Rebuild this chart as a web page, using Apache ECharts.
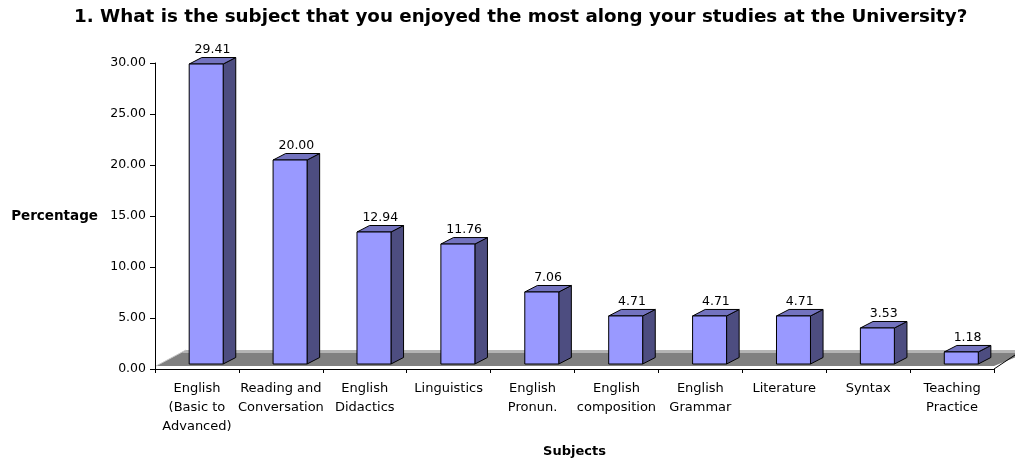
<!DOCTYPE html>
<html>
<head>
<meta charset="utf-8">
<script src="https://cdn.jsdelivr.net/npm/echarts@6/dist/echarts.min.js"></script>
<style>
  html, body { margin: 0; padding: 0; background: #ffffff; }
  #chart { width: 1015px; height: 460px; }
</style>
</head>
<body>
<div id="chart"></div>
<script>
// Survey question 1: favourite subject, share of respondents (%)
const categories = [
  'English\n(Basic to\nAdvanced)',
  'Reading and\nConversation',
  'English\nDidactics',
  'Linguistics',
  'English\nPronun.',
  'English\ncomposition',
  'English\nGrammar',
  'Literature',
  'Syntax',
  'Teaching\nPractice'
];
const percentages = [29.41, 20.00, 12.94, 11.76, 7.06, 4.71, 4.71, 4.71, 3.53, 1.18];
const yAxisRange = { min: 0, max: 30, interval: 5 };

const FONT = 'DejaVu Sans';
const FRONT = '#9999ff';
const SIDE = '#4d4d80';
const TOP = '#7373bf';

// Gray 3D floor drawn under the bars, following the grid rectangle
function renderFloor(params, api) {
  const cs = params.coordSys;
  const fx = cs.x, fy = cs.y + cs.height;
  const w = cs.width;
  const depthX = 30, depthY = 16;
  const front = fy - 3;
  return {
    type: 'group',
    children: [
      {
        type: 'polygon',
        shape: { points: [[fx + 1, front], [fx + 1 + depthX, front - depthY], [fx + w + depthX + 10, front - depthY], [fx + w, front]] },
        style: { fill: '#808080', stroke: null }
      },
      {
        type: 'polygon',
        shape: { points: [[fx + 1 + depthX - 4, front - depthY + 3], [fx + 1 + depthX, front - depthY], [fx + w + depthX + 10, front - depthY], [fx + w + depthX + 6, front - depthY + 3]] },
        style: { fill: '#b4b4b4', stroke: null }
      },
      {
        type: 'line',
        shape: { x1: fx + 1, y1: front, x2: fx + 1 + depthX, y2: front - depthY },
        style: { stroke: '#c8c8c8', lineWidth: 1 }
      },
      {
        type: 'line',
        shape: { x1: fx + w, y1: fy, x2: fx + w + depthX, y2: fy - depthY - 4 },
        style: { stroke: '#000000', lineWidth: 1 }
      }
    ]
  };
}

// Box-shaped bar: front face, shaded side, top face and its value label
function renderBar(params, api) {
  const i = api.value(0);
  const v = api.value(1);
  const top = api.coord([i, v]);
  const base = api.coord([i, 0]);
  const band = api.size([1, 0])[0];
  const w = band * 0.405;
  const dx = band * 0.15;
  const dy = 6.5;
  const lift = 5;
  const x0 = top[0] + band * 0.11 - w / 2;
  const x1 = x0 + w;
  const yT = top[1] - lift;
  const yB = base[1] - lift;
  const edge = { stroke: '#000000', lineWidth: 1, lineJoin: 'round' };
  return {
    type: 'group',
    children: [
      {
        type: 'polygon',
        shape: { points: [[x1, yT], [x1 + dx, yT - dy], [x1 + dx, yB - dy], [x1, yB]] },
        style: Object.assign({ fill: SIDE }, edge)
      },
      {
        type: 'polygon',
        shape: { points: [[x0, yT], [x0 + dx, yT - dy], [x1 + dx, yT - dy], [x1, yT]] },
        style: Object.assign({ fill: TOP }, edge)
      },
      {
        type: 'rect',
        shape: { x: x0, y: yT, width: w, height: yB - yT },
        style: Object.assign({ fill: FRONT }, edge)
      },
      {
        type: 'text',
        x: (x0 + x1 + dx) / 2,
        y: yT - dy - 8,
        style: {
          text: v.toFixed(2),
          fill: '#000000',
          font: '12.5px "' + FONT + '"',
          align: 'center',
          verticalAlign: 'middle'
        }
      }
    ]
  };
}

const chart = echarts.init(document.getElementById('chart'), null, { renderer: 'canvas' });
chart.setOption({
  animation: false,
  backgroundColor: '#ffffff',
  title: {
    text: '1. What is the subject that you enjoyed the most along your studies at the University?',
    left: 74,
    top: 8,
    padding: 0,
    textStyle: { fontFamily: FONT, fontSize: 18.3, fontWeight: 'bold', color: '#000000' }
  },
  grid: { left: 155, right: 21, top: 63, bottom: 91, containLabel: false, outerBoundsMode: 'none' },
  xAxis: {
    type: 'category',
    data: categories,
    boundaryGap: true,
    name: 'Subjects',
    nameLocation: 'middle',
    nameGap: 76,
    nameTextStyle: { fontFamily: FONT, fontSize: 13, fontWeight: 'bold', color: '#000000' },
    axisLine: { lineStyle: { color: '#000000', width: 1 } },
    axisTick: { show: true, length: 4, interval: 0, lineStyle: { color: '#000000' } },
    axisLabel: {
      interval: 0,
      hideOverlap: false,
      margin: 10,
      fontFamily: FONT,
      fontSize: 13,
      lineHeight: 19,
      color: '#000000',
      align: 'center'
    },
    splitLine: { show: false }
  },
  yAxis: {
    type: 'value',
    min: yAxisRange.min,
    max: yAxisRange.max,
    interval: yAxisRange.interval,
    name: 'Percentage',
    nameLocation: 'middle',
    nameRotate: 0,
    nameGap: 57,
    nameTextStyle: { fontFamily: FONT, fontSize: 13.5, fontWeight: 'bold', color: '#000000', align: 'right', verticalAlign: 'middle' },
    axisLine: { show: true, lineStyle: { color: '#000000', width: 1 } },
    axisTick: { show: true, length: 5, lineStyle: { color: '#000000' } },
    axisLabel: {
      margin: 9,
      fontFamily: FONT,
      fontSize: 12.5,
      color: '#000000',
      formatter: function (val) { return val.toFixed(2); }
    },
    splitLine: { show: false }
  },
  series: [
    {
      type: 'custom',
      name: 'floor',
      renderItem: renderFloor,
      data: [[0, 0]],
      encode: { x: 0, y: 1 },
      silent: true,
      z: 1
    },
    {
      type: 'custom',
      name: 'Percentage',
      renderItem: renderBar,
      data: percentages.map(function (p, i) { return [i, p]; }),
      encode: { x: 0, y: 1 },
      z: 2
    }
  ]
});
</script>
</body>
</html>
